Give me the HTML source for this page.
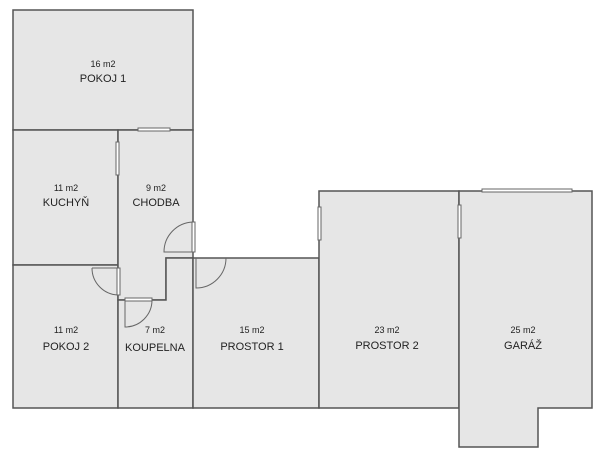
<!DOCTYPE html>
<html><head><style>body{margin:0;background:#fff}svg{display:block}text{font-family:"Liberation Sans",sans-serif;fill:#222;text-anchor:middle}</style></head><body>
<svg width="605" height="456" viewBox="0 0 605 456">
<g fill="#e6e6e6" stroke="#555" stroke-width="1.5">
<rect x="13" y="10" width="180" height="120"/>
<rect x="13" y="130" width="105" height="135"/>
<rect x="13" y="265" width="105" height="143"/>
<path d="M118 130 H193 V258 H166 V300 H118 Z"/>
<path d="M118 300 H166 V258 H193 V408 H118 Z"/>
<rect x="193" y="258" width="126" height="150"/>
<rect x="319" y="191" width="140" height="217"/>
<path d="M459 191 H592 V408 H538 V447 H459 Z"/>
</g>
<g fill="#fff" stroke="#666" stroke-width="1">
<rect x="138" y="128" width="32" height="3"/>
<rect x="116" y="142" width="3" height="33"/>
<rect x="318" y="207" width="3" height="33"/>
<rect x="458" y="205" width="3" height="33"/>
<rect x="482" y="189" width="90" height="3"/>
<rect x="192" y="222" width="3" height="30"/>
<rect x="117" y="268" width="3" height="27"/>
<rect x="125" y="298" width="27" height="3"/>
</g>
<g fill="none" stroke="#666" stroke-width="1">
<path d="M193 222 A30 30 0 0 0 164 252 H193"/>
<path d="M118 268 H92 M118 295 A27 27 0 0 1 92 268"/>
<path d="M152 300 A27 27 0 0 1 125 327 V300"/>
<path d="M196 258 V288 A30 30 0 0 0 226 258"/>
</g>
<text x="103" y="67" font-size="9">16 m2</text><text x="103" y="82" font-size="11">POKOJ 1</text>
<text x="66" y="191" font-size="9">11 m2</text><text x="66" y="206" font-size="11">KUCHYŇ</text>
<text x="156" y="191" font-size="9">9 m2</text><text x="156" y="206" font-size="11">CHODBA</text>
<text x="66" y="333" font-size="9">11 m2</text><text x="66" y="350" font-size="11">POKOJ 2</text>
<text x="155" y="333" font-size="9">7 m2</text><text x="155" y="351" font-size="11">KOUPELNA</text>
<text x="252" y="333" font-size="9">15 m2</text><text x="252" y="350" font-size="11">PROSTOR 1</text>
<text x="387" y="333" font-size="9">23 m2</text><text x="387" y="349" font-size="11">PROSTOR 2</text>
<text x="523" y="333" font-size="9">25 m2</text><text x="523" y="349" font-size="11">GARÁŽ</text>
</svg>
</body></html>
